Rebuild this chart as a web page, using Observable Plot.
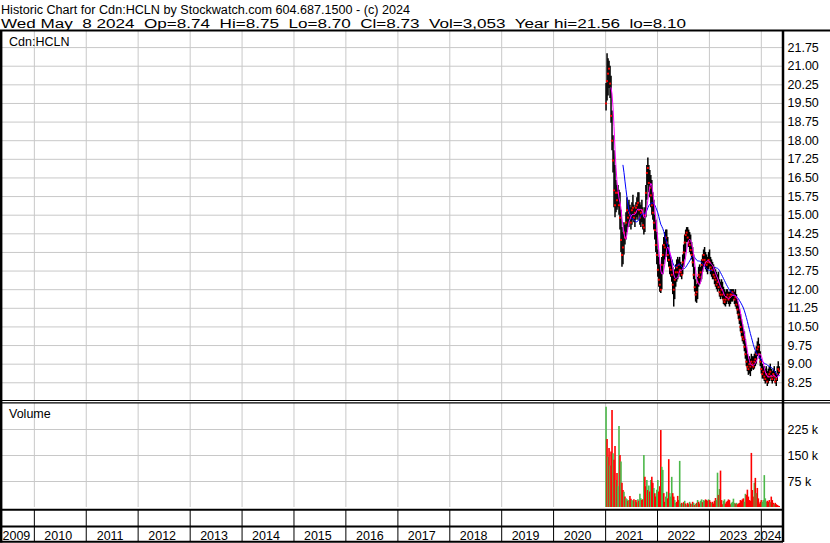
<!DOCTYPE html>
<html><head><meta charset="utf-8">
<script src="https://cdn.jsdelivr.net/npm/d3@7"></script>
<script src="https://cdn.jsdelivr.net/npm/@observablehq/plot@0.6"></script>
<style>
html,body{margin:0;padding:0;background:#fff;}
#root{position:relative;width:830px;height:543px;overflow:hidden;background:#fff;}
.panel{position:absolute;left:0;}
#overlay{position:absolute;left:0;top:0;pointer-events:none;}
</style></head><body><div id="root"></div>
<script>
const FONT = '"Liberation Sans", Arial, sans-serif';
const titleLine1 = "Historic Chart for Cdn:HCLN by Stockwatch.com 604.687.1500 - (c) 2024";
const titleLine2 = "Wed May  8 2024  Op=8.74  Hi=8.75  Lo=8.70  Cl=8.73  Vol=3,053  Year hi=21.56  lo=8.10";
const symbolLabel = "Cdn:HCLN";
const volumeLabel = "Volume";

const yearLabels = ["2009","2010","2011","2012","2013","2014","2015","2016","2017","2018","2019","2020","2021","2022","2023","2024"];
const priceTicks = [8.25,9.00,9.75,10.50,11.25,12.00,12.75,13.50,14.25,15.00,15.75,16.50,17.25,18.00,18.75,19.50,20.25,21.00,21.75];
const volTicks = [75000,150000,225000];
const volTickLabels = ["75 k","150 k","225 k"];

// weekly bars from the week of 2021-01-04
const firstWeek = "2021-01-04";
const priceLow = [
19.2,19.6,19.8,20.1,19.7,18.7,17.6,16.7,15.3,14.9,
15.1,15.2,15.3,15.0,14.4,13.5,12.9,13.0,13.4,13.8,
14.0,14.3,14.5,14.5,14.7,14.4,14.6,14.8,14.7,14.5,
14.8,14.9,14.8,15.0,14.6,14.5,14.7,14.4,14.2,14.3,
14.9,15.6,16.2,15.9,15.7,15.3,15.0,14.8,14.4,14.0,
13.5,13.0,12.5,12.1,11.9,11.85,12.0,12.6,13.0,13.2,
13.3,13.5,13.1,12.9,12.6,12.5,12.3,11.8,11.3,11.6,
12.1,12.3,12.4,12.5,12.6,12.5,12.4,12.6,12.9,13.2,
13.5,13.9,13.9,13.7,13.5,13.4,13.2,12.9,12.4,11.9,
11.5,11.45,11.6,12.1,12.2,12.3,12.4,12.7,12.9,13.0,
12.8,12.7,12.6,12.8,12.9,12.6,12.5,12.4,12.4,12.2,
12.1,12.0,11.9,12.0,11.7,11.6,11.7,11.6,11.4,11.35,
11.3,11.4,11.5,11.4,11.3,11.4,11.5,11.5,11.6,11.4,
11.3,11.2,11.0,10.8,10.6,10.3,10.1,9.9,9.8,9.5,
9.2,8.9,8.7,8.55,8.6,8.5,8.7,8.8,8.75,8.8,
8.9,9.0,9.3,9.4,9.2,8.9,8.6,8.4,8.4,8.3,
8.2,8.3,8.1,8.2,8.3,8.4,8.3,8.2,8.3,8.4,
8.2,8.1,8.3,8.5,8.6];
const priceHigh = [
20.3,21.5,21.3,21.2,21.0,20.6,19.2,18.2,17.6,17.0,
16.4,16.2,16.2,16.0,15.9,15.2,14.5,14.3,14.7,14.6,
15.1,15.7,15.5,15.6,15.4,15.3,15.5,15.8,15.4,15.3,
15.5,15.7,15.9,15.9,15.5,15.4,15.6,15.3,15.0,15.3,
16.2,17.0,17.3,17.0,16.8,16.6,16.4,15.9,15.6,15.0,
14.8,14.3,13.6,13.3,13.0,12.8,13.3,13.8,14.1,14.3,
14.4,14.4,14.1,13.8,13.4,13.3,13.2,12.9,12.6,12.8,
13.0,13.2,13.3,13.2,13.3,13.1,13.0,13.4,13.8,14.2,
14.4,14.5,14.5,14.4,14.3,14.2,13.9,13.7,13.4,12.9,
12.4,12.2,12.5,12.9,13.0,12.9,13.2,13.4,13.6,13.7,
13.5,13.4,13.3,13.5,13.6,13.3,13.2,13.1,13.0,12.9,
12.8,12.7,12.6,12.7,12.4,12.3,12.4,12.3,12.1,12.0,
11.9,12.0,12.0,11.9,11.9,12.0,12.0,12.0,12.0,11.9,
12.0,11.8,11.6,11.4,11.2,11.0,10.8,10.6,10.4,10.3,
10.0,9.7,9.4,9.2,9.3,9.2,9.4,9.3,9.3,9.4,
9.5,9.7,9.9,10.05,9.8,9.5,9.2,9.0,8.9,8.9,
8.8,8.9,8.7,8.8,8.9,9.0,8.8,8.7,8.8,8.9,
8.7,8.6,8.9,9.1,8.9];
const priceClose = [
19.5,20.4,20.7,20.9,20.3,19.0,18.0,17.2,16.0,15.4,
15.9,15.6,15.9,15.4,14.9,14.0,13.4,13.7,14.3,14.1,
14.7,15.2,14.9,15.1,15.0,14.7,15.2,15.3,14.9,15.1,
15.3,15.4,15.5,15.2,14.9,15.1,15.2,14.6,14.5,15.0,
15.9,16.7,16.9,16.3,16.1,15.8,15.4,15.1,14.7,14.4,
13.8,13.4,12.8,12.4,12.2,12.0,13.0,13.4,13.8,13.7,
14.1,13.9,13.4,13.2,12.9,12.8,12.6,12.2,12.0,12.4,
12.7,12.9,12.7,13.0,12.8,12.7,12.6,13.1,13.5,13.9,
14.2,14.3,14.1,13.9,13.8,13.6,13.4,13.1,12.6,12.1,
11.8,11.9,12.3,12.6,12.5,12.7,13.0,13.2,13.4,13.2,
13.1,13.0,13.1,13.2,13.1,12.9,12.8,12.8,12.6,12.5,
12.4,12.2,12.3,12.1,11.9,11.8,12.0,11.8,11.6,11.5,
11.6,11.7,11.8,11.6,11.7,11.8,11.8,11.9,11.8,11.6,
11.7,11.4,11.2,11.0,10.8,10.5,10.3,10.1,10.0,9.7,
9.4,9.1,8.9,8.8,9.0,8.9,9.1,9.0,8.9,9.1,
9.2,9.4,9.6,9.7,9.4,9.1,8.8,8.6,8.7,8.5,
8.4,8.6,8.3,8.5,8.6,8.7,8.5,8.4,8.6,8.5,
8.3,8.4,8.6,8.8,8.73];
// weekly volume in thousands of shares, and 1 = up (green), 0 = down (red)
const volumeK = [
289,196,145,170,120,160,280,155,136,176,
78,98,60,234,150,131,70,49,44,30,
25,22,18,20,32,24,20,18,22,16,
20,14,22,18,38,25,20,22,150,87,
60,78,49,62,45,78,87,70,55,40,
30,50,78,45,60,222,116,107,40,15,
30,44,25,138,40,30,87,40,30,20,
12,15,32,20,133,9,12,10,14,18,
10,6,12,8,15,10,8,15,12,6,
9,12,20,15,10,18,22,14,20,18,
22,20,18,22,20,15,12,15,10,18,
26,20,99,35,52,105,20,8,18,22,
10,15,18,22,20,8,12,15,24,12,
10,12,8,10,12,20,18,22,25,15,
38,35,50,30,20,18,156,49,30,70,
84,40,55,25,10,15,20,15,20,92,
25,15,18,15,20,14,30,20,12,8,
12,8,6,4,3];
const volUp = [
1,0,1,0,1,0,0,1,0,0,
1,0,1,1,0,1,0,0,1,0,
1,1,0,1,0,0,1,1,0,1,
0,0,1,0,1,1,0,0,1,0,
0,1,0,1,0,1,0,0,1,0,
0,1,1,0,0,0,1,1,0,0,
1,1,0,0,1,1,1,0,0,1,
1,0,0,0,1,1,0,1,0,1,
0,1,0,0,1,0,1,0,1,0,
1,0,1,0,0,1,1,0,1,1,
0,0,0,1,0,0,1,0,0,0,
0,1,1,0,1,0,0,0,1,1,
0,0,0,0,0,0,1,1,1,1,
0,1,0,0,0,0,0,0,0,1,
1,0,0,0,0,0,0,0,0,1,
0,1,0,0,0,0,0,1,1,1,
1,1,0,0,0,1,0,0,0,1,
0,0,0,0,0];

const viewStart = "2009-05-22", viewEnd = "2024-05-29";

// ---- build tables ----
const DAY = 864e5;
const t0 = new Date(firstWeek + "T00:00:00Z").getTime();
const weeks = priceClose.map((c, i) => ({date: new Date(t0 + i * 7 * DAY), lo: priceLow[i], hi: priceHigh[i], close: c}));
const vols = volumeK.map((v, i) => ({date: new Date(t0 + i * 7 * DAY), vol: v * 1000, up: volUp[i]}));
const xDomain = [new Date(viewStart + "T00:00:00Z"), new Date(viewEnd + "T00:00:00Z")];
const yearStarts = yearLabels.slice(1).map(y => new Date(Date.UTC(+y, 0, 1)));
const midLabels = yearLabels.slice(1, -1).map(y => ({date: new Date(Date.UTC(+y, 6, 2)), label: y}));
const GRID = "#c8c8c8";
const GREEN = "#4cb84a", RED = "#ff0000";
const FS = "12.5px";

const common = {
  width: 830, marginLeft: 2, marginRight: 48, marginTop: 0, marginBottom: 0,
  style: {background: "transparent", fontFamily: FONT, fontSize: FS, color: "#000", overflow: "visible"}
};

const pricePlot = Plot.plot({
  ...common, height: 369,
  x: {type: "utc", domain: xDomain, axis: null},
  y: {domain: [7.537, 22.398], axis: "right", ticks: priceTicks, tickFormat: d => d.toFixed(2), tickSize: 0, tickPadding: 5, label: null},
  marks: [
    Plot.ruleY(priceTicks, {stroke: GRID, strokeWidth: 1}),
    Plot.ruleX(yearStarts, {stroke: GRID, strokeWidth: 1}),
    Plot.ruleX(weeks, {x: "date", y1: "lo", y2: "hi", stroke: "#000", strokeWidth: 1.5}),
    Plot.dot(weeks, {x: "date", y: "close", symbol: "square", r: 1.1, fill: RED, stroke: null}),
    Plot.lineY(weeks, Plot.windowY({k: 18, anchor: "end", strict: true}, {x: "date", y: "close", stroke: "#0000ff", strokeWidth: 1})),
    Plot.lineY(weeks, Plot.windowY({k: 6, anchor: "end", strict: true}, {x: "date", y: "close", stroke: "#ff00ff", strokeWidth: 1}))
  ]
});

const volPlot = Plot.plot({
  ...common, height: 106, marginBottom: 2,
  x: {type: "utc", domain: xDomain, axis: null},
  y: {domain: [0, 300000], axis: "right", ticks: volTicks, tickFormat: d => volTickLabels[volTicks.indexOf(d)], tickSize: 0, tickPadding: 5, label: null},
  marks: [
    Plot.ruleY(volTicks, {stroke: GRID, strokeWidth: 1}),
    Plot.ruleX(yearStarts, {stroke: GRID, strokeWidth: 1}),
    Plot.ruleX(vols, {x: "date", y1: 0, y2: "vol", stroke: d => d.up ? GREEN : RED, strokeWidth: 1.6})
  ]
});

const bandPlot = Plot.plot({
  ...common, height: 33,
  x: {type: "utc", domain: xDomain, axis: null},
  marks: [
    Plot.ruleX(yearStarts, {stroke: "#000", strokeWidth: 1}),
    Plot.text(midLabels, {x: "date", text: "label", frameAnchor: "bottom", lineAnchor: "bottom", dy: -3, dx: -2, fill: "#000"}),
    Plot.text([yearLabels[0]], {x: () => xDomain[0], text: d => d, frameAnchor: "bottom", lineAnchor: "bottom", textAnchor: "start", dy: -3, fill: "#000"}),
    Plot.text([yearLabels[yearLabels.length - 1]], {x: () => xDomain[1], text: d => d, frameAnchor: "bottom", lineAnchor: "bottom", textAnchor: "end", dy: -3, dx: -1, fill: "#000"})
  ]
});

const root = document.getElementById("root");
function place(node, top) {
  const wrap = document.createElement("div");
  wrap.className = "panel";
  wrap.style.top = top + "px";
  wrap.appendChild(node);
  root.appendChild(wrap);
}
place(pricePlot, 31);
place(volPlot, 403);
place(bandPlot, 509);

// frame lines and titles
const NS = "http://www.w3.org/2000/svg";
const ov = document.createElementNS(NS, "svg");
ov.setAttribute("id", "overlay");
ov.setAttribute("width", 830);
ov.setAttribute("height", 543);
function line(x1, y1, x2, y2, w) {
  const l = document.createElementNS(NS, "line");
  l.setAttribute("x1", x1); l.setAttribute("y1", y1); l.setAttribute("x2", x2); l.setAttribute("y2", y2);
  l.setAttribute("stroke", "#000"); l.setAttribute("stroke-width", w);
  ov.appendChild(l);
}
function text(str, x, y, len) {
  const t = document.createElementNS(NS, "text");
  t.setAttribute("x", x); t.setAttribute("y", y);
  t.setAttribute("font-family", FONT); t.setAttribute("font-size", FS); t.setAttribute("fill", "#000");
  t.setAttribute("style", "white-space:pre");
  if (len) { t.setAttribute("textLength", len); t.setAttribute("lengthAdjust", "spacingAndGlyphs"); }
  t.textContent = str;
  ov.appendChild(t);
}
line(0, 30.5, 830, 30.5, 2);
line(1.2, 30, 1.2, 542.5, 2.4);
line(783, 30, 783, 542, 2.5);
line(0, 400.5, 830, 400.5, 1.2);
line(0, 402.8, 830, 402.8, 1.2);
line(0, 509.8, 783, 509.8, 2);
line(0, 526.6, 783, 526.6, 2);
line(0, 541.8, 783, 541.8, 2);
text(titleLine1, 1, 13.5, 409);
text(titleLine2, 1, 28, 685);
text(symbolLabel, 9, 46);
text(volumeLabel, 9, 418);
root.appendChild(ov);
</script></body></html>
